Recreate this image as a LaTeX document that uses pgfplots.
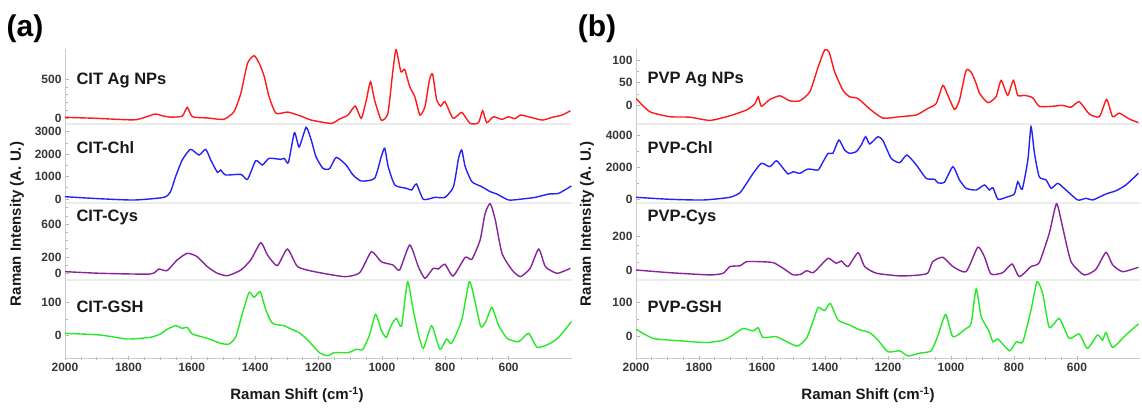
\documentclass[border=0pt]{standalone}
\usepackage{fontspec}
\setmainfont{Liberation Sans}
\usepackage{pgfplots}
\pgfplotsset{compat=1.18}
\definecolor{specred}{RGB}{255,25,25}
\definecolor{specblue}{RGB}{35,35,245}
\definecolor{specpurple}{RGB}{135,35,155}
\definecolor{specgreen}{RGB}{40,232,40}
\definecolor{ticktext}{RGB}{55,55,55}

\pgfplotsset{
  raman/.style={
    scale only axis, x dir=reverse, xmin=400, xmax=2000,
    axis x line*=bottom, axis y line*=left,
    axis line style={-},
    y axis line style={draw=gray!40, line width=0.9pt},
    tick style={gray!60, line width=0.6pt},
    major tick length=4pt, minor tick length=3pt,
    ytick align=inside, xtick align=center,
    yticklabel style={font=\bfseries\fontsize{12}{12}\selectfont, text=ticktext},
    xticklabel style={font=\bfseries\fontsize{12}{12}\selectfont, text=ticktext},
    /pgf/number format/assume math mode=true,
    /pgf/number format/1000 sep={},
    minor y tick num=3,
    every axis plot/.append style={line width=1.4pt, smooth, tension=0.35},
  },
  upper/.style={raman, xtick=\empty,
    x axis line style={draw=gray!15, line width=1.4pt}},
  lower/.style={raman, xtick={600,800,...,2000}, minor x tick num=3, minor y tick num=1,
    x axis line style={draw=gray!40, line width=0.9pt}},
}
\tikzset{
  lab/.style={font=\bfseries\fontsize{16.5}{18}\selectfont, text=black!90, anchor=west},
  axlab/.style={font=\bfseries\fontsize{15}{16}\selectfont, text=black!90},
}

\begin{document}
\begin{tikzpicture}
\useasboundingbox (0pt,0pt) rectangle (1142pt,-408pt);

% ---------------- panel (a) ----------------
\begin{axis}[upper, at={(65pt,-124pt)}, anchor=south west, width=507pt, height=75pt,
  ymin=-72, ymax=882, ytick={0,500}, minor y tick num=4]
\addplot[specred] coordinates {
(2000,13)(1900,0)(1785,-20)(1750,10)(1715,55)(1690,30)(1667,15)(1630,29)(1614,140)(1598,20)
(1550,5)(1499,-13)(1467,84)(1445,318)(1424,700)(1403,797)(1387,700)(1371,530)(1356,275)(1334,64)
(1297,80)(1255,28)(1223,-22)(1160,-64)(1134,-9)(1107,42)(1084,156)(1065,0)(1049,233)(1036,466)
(1023,233)(1002,-22)(981,64)(965,614)(955,875)(940,593)(928,623)(912,402)(896,275)(880,42)
(864,148)(850,487)(840,564)(827,233)(814,156)(801,211)(775,0)(748,76)(722,-64)(695,-55)
(682,97)(669,-55)(648,20)(621,-13)(601,20)(580,-4)(563,42)(537,20)(494,-22)(463,12)(431,42)(405,97)};
\end{axis}

\begin{axis}[upper, at={(65pt,-203pt)}, anchor=south west, width=507pt, height=79pt,
  ymin=-178, ymax=3343, ytick={0,1000,2000,3000}, minor y tick num=1]
\addplot[specblue] coordinates {
(2000,103)(1900,20)(1783,-45)(1688,74)(1667,327)(1651,995)(1630,1739)(1604,2214)(1577,1962)(1556,2214)
(1540,1739)(1519,1189)(1509,1293)(1493,1070)(1445,1100)(1424,877)(1398,1709)(1377,1516)(1356,1813)(1319,1768)
(1308,1813)(1295,1620)(1276,2956)(1261,2320)(1239,3196)(1223,2630)(1208,1887)(1186,1367)(1165,1352)(1144,1857)
(1113,1516)(1091,1070)(1065,802)(1023,921)(1002,1887)(991,2259)(980,1442)(959,624)(922,475)(906,401)
(891,669)(869,-15)(833,74)(801,74)(774,550)(758,1813)(748,2185)(737,1442)(716,773)(685,550)
(658,327)(637,223)(600,-45)(558,0)(516,74)(473,223)(442,253)(402,580)};
\end{axis}

\begin{axis}[upper, at={(65pt,-280pt)}, anchor=south west, width=507pt, height=77pt,
  ymin=-82, ymax=857, ytick={0,200,600}, minor ytick={100,300,400,500,700,800}]
\addplot[specpurple] coordinates {
(2000,20)(1889,0)(1731,-9)(1704,52)(1678,32)(1646,162)(1614,244)(1583,203)(1551,81)(1519,0)
(1487,-29)(1445,40)(1414,162)(1382,373)(1361,223)(1330,93)(1298,296)(1266,81)(1213,20)(1118,-41)
(1070,7)(1033,263)(1002,141)(965,101)(944,40)(912,345)(885,81)(864,-61)(838,61)(822,52)
(801,110)(775,-33)(737,195)(716,171)(690,406)(674,732)(658,850)(642,650)(621,244)(589,40)
(563,-41)(532,61)(505,296)(484,81)(447,0)(405,61)};
\end{axis}

\begin{axis}[lower, at={(65pt,-358pt)}, anchor=south west, width=507pt, height=78pt,
  ymin=-67, ymax=167, ytick={0,100}]
\addplot[specgreen] coordinates {
(2000,7)(1889,2)(1804,-10)(1731,-5)(1699,5)(1678,19)(1651,30)(1630,22)(1614,25)(1598,5)
(1551,-8)(1509,-23)(1482,-25)(1461,-3)(1440,67)(1419,130)(1403,115)(1384,132)(1366,77)(1345,37)
(1308,30)(1287,20)(1261,9)(1234,-13)(1197,-51)(1171,-60)(1150,-51)(1107,-51)(1081,-41)(1060,-41)
(1039,2)(1020,64)(1002,17)(986,-5)(970,32)(954,52)(938,29)(919,162)(903,87)(885,5)
(869,-38)(843,30)(817,-41)(796,-10)(780,-23)(748,47)(724,162)(706,102)(688,27)(672,42)
(653,85)(632,32)(605,-8)(568,-18)(537,7)(510,-35)(473,-25)(442,-5)(402,42)};
\end{axis}

% ---------------- panel (b) ----------------
\begin{axis}[upper, at={(636pt,-124pt)}, anchor=south west, width=504pt, height=75pt,
  ymin=-41, ymax=124, ytick={0,50,100}, minor y tick num=1]
\addplot[specred] coordinates {
(2000,15)(1956,-14)(1892,-25)(1829,-26)(1765,-33)(1702,-23)(1649,-10)(1623,3)(1612,19)(1602,-2)
(1575,13)(1543,21)(1512,10)(1480,10)(1448,30)(1422,84)(1401,122)(1387,117)(1369,73)(1343,33)
(1322,19)(1295,15)(1258,-8)(1216,-28)(1163,-25)(1110,-21)(1074,-7)(1047,4)(1026,44)(1010,22)
(989,-9)(973,12)(952,77)(936,73)(920,48)(909,26)(883,6)(857,19)(841,55)(820,22)
(802,55)(788,22)(767,22)(741,17)(720,-2)(678,-2)(646,0)(619,-4)(593,8)(561,-19)
(529,-25)(506,13)(487,-25)(466,-17)(434,-30)(405,-38)};
\end{axis}

\begin{axis}[upper, at={(636pt,-203pt)}, anchor=south west, width=504pt, height=79pt,
  ymin=-250, ymax=4687, ytick={0,2000,4000}, minor y tick num=1]
\addplot[specblue] coordinates {
(2000,106)(1892,-19)(1787,-62)(1702,106)(1670,394)(1649,981)(1628,1606)(1602,2231)(1575,2019)(1554,2394)
(1533,1919)(1517,1563)(1501,1706)(1480,1606)(1454,1875)(1422,1813)(1406,2331)(1390,2856)(1375,2856)(1356,3688)
(1338,3063)(1322,2856)(1301,2958)(1285,3375)(1271,3896)(1258,3438)(1232,3896)(1216,3646)(1190,2544)(1163,2269)
(1140,2750)(1110,2125)(1079,1294)(1052,1231)(1042,1019)(1021,1050)(994,2019)(973,1188)(952,669)(920,563)
(894,875)(878,563)(867,706)(851,-19)(825,106)(799,313)(788,1081)(774,606)(756,2438)(746,4519)
(735,2856)(720,1394)(698,1188)(682,669)(661,981)(635,563)(598,-62)(571,44)(550,-62)(508,313)
(476,519)(445,875)(405,1606)};
\end{axis}

\begin{axis}[upper, at={(636pt,-280pt)}, anchor=south west, width=504pt, height=77pt,
  ymin=-55, ymax=398, ytick={0,200}]
\addplot[specpurple] coordinates {
(2000,4)(1892,-12)(1765,-25)(1723,-15)(1702,24)(1670,29)(1649,53)(1607,53)(1564,47)(1533,14)
(1501,-25)(1475,-20)(1459,0)(1438,-12)(1417,24)(1390,73)(1364,43)(1348,57)(1327,24)(1295,106)
(1274,24)(1237,-15)(1163,-31)(1110,-27)(1074,-15)(1058,53)(1026,79)(994,24)(952,-6)(915,138)
(894,82)(873,-20)(836,-12)(806,39)(783,-35)(746,24)(720,47)(688,220)(665,394)(646,259)
(619,53)(577,-25)(540,8)(508,108)(487,34)(455,-6)(405,20)};
\end{axis}

\begin{axis}[lower, at={(636pt,-358pt)}, anchor=south west, width=504pt, height=78pt,
  ymin=-62, ymax=165, ytick={0,100}]
\addplot[specgreen] coordinates {
(2000,22)(1945,-5)(1861,-12)(1776,-17)(1723,-10)(1692,5)(1660,24)(1628,17)(1612,26)(1597,-2)
(1554,0)(1512,-19)(1486,-27)(1459,-5)(1438,44)(1422,85)(1401,76)(1383,97)(1359,49)(1322,34)
(1290,20)(1258,12)(1232,-10)(1200,-44)(1163,-41)(1137,-56)(1100,-48)(1063,-41)(1042,2)(1017,65)
(994,0)(952,24)(936,39)(920,139)(904,58)(880,17)(867,-15)(851,-7)(814,-41)(793,-15)
(772,-15)(746,78)(727,160)(709,126)(688,27)(656,53)(625,-5)(593,8)(567,-34)(535,5)
(519,-10)(508,12)(487,-31)(445,5)(405,37)};
\end{axis}

% ---------------- labels ----------------
\node[font=\bfseries\fontsize{30}{32}\selectfont] at (25pt,-29pt) {(a)};
\node[font=\bfseries\fontsize{30}{32}\selectfont] at (597pt,-29pt) {(b)};
\node[lab] at (73pt,-80pt) {CIT Ag NPs};
\node[lab] at (73pt,-148pt) {CIT-Chl};
\node[lab] at (73pt,-217pt) {CIT-Cys};
\node[lab] at (73pt,-307pt) {CIT-GSH};
\node[lab] at (644pt,-80pt) {PVP Ag NPs};
\node[lab] at (644pt,-148pt) {PVP-Chl};
\node[lab] at (644pt,-217pt) {PVP-Cys};
\node[lab] at (644pt,-307pt) {PVP-GSH};
\node[axlab, rotate=90] at (17pt,-224pt) {Raman Intensity (A. U.)};
\node[axlab, rotate=90] at (587pt,-224pt) {Raman Intensity (A. U.)};
\node[axlab] at (297pt,-395pt) {Raman Shift (cm\textsuperscript{-1})};
\node[axlab] at (868pt,-395pt) {Raman Shift (cm\textsuperscript{-1})};
\end{tikzpicture}
\end{document}
